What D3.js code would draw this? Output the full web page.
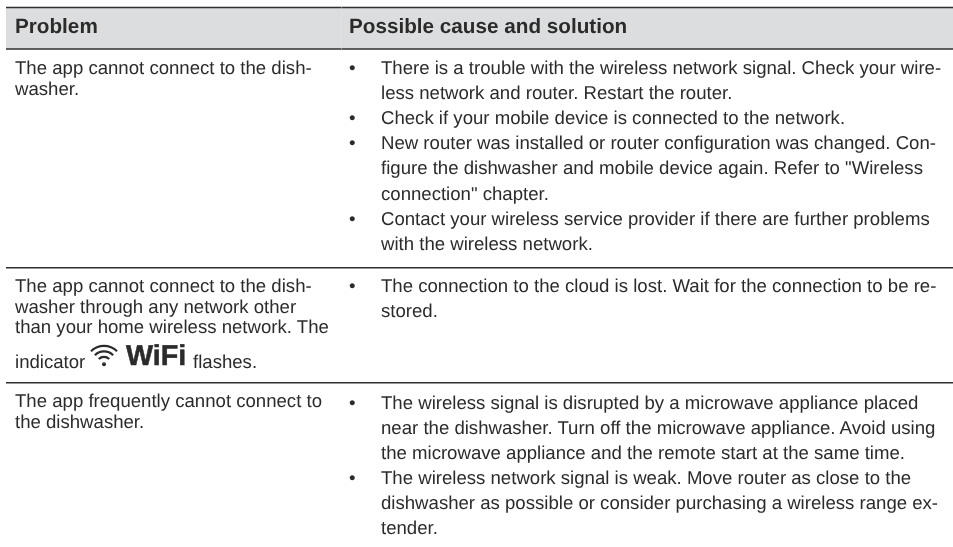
<!DOCTYPE html>
<html>
<head>
<meta charset="utf-8">
<script src="https://cdn.jsdelivr.net/npm/d3@7"></script>
<style>
  html, body { margin: 0; padding: 0; background: #fff; }
  svg { display: block; filter: blur(0.35px); }
  text { font-family: "Liberation Sans", Arial, sans-serif; fill: #2b2b2b; text-rendering: geometricPrecision; }
</style>
</head>
<body>
<svg id="chart" width="953" height="547"></svg>
<script>
'use strict';

const headers = ['Problem', 'Possible cause and solution'];

const problems = [
  ['The app cannot connect to the dish-', 'washer.'],
  ['The app cannot connect to the dish-', 'washer through any network other', 'than your home wireless network. The'],
  ['The app frequently cannot connect to', 'the dishwasher.'],
];

const solutions = [
  [
    ['There is a trouble with the wireless network signal. Check your wire-', 'less network and router. Restart the router.'],
    ['Check if your mobile device is connected to the network.'],
    ['New router was installed or router configuration was changed. Con-', 'figure the dishwasher and mobile device again. Refer to "Wireless', 'connection" chapter.'],
    ['Contact your wireless service provider if there are further problems', 'with the wireless network.'],
  ],
  [
    ['The connection to the cloud is lost. Wait for the connection to be re-', 'stored.'],
  ],
  [
    ['The wireless signal is disrupted by a microwave appliance placed', 'near the dishwasher. Turn off the microwave appliance. Avoid using', 'the microwave appliance and the remote start at the same time.'],
    ['The wireless network signal is weak. Move router as close to the', 'dishwasher as possible or consider purchasing a wireless range ex-', 'tender.'],
  ],
];

// horizontal rules, top of the header first
const rules = [7.5, 49, 267.8, 382.7];
// first baseline of each row, left and right column
const problemTops = [74, 291.8, 406.8];
const solutionTops = [74, 292, 408.5];

const width = 953;
const left = 6;
const colProblem = 15;
const colBullet = 349;
const colSolution = 381;
const colSplit = 341.5;
const problemPitch = 20.7;
const solutionPitch = 25.1;
const fontSize = 18.6;
const ink = '#2b2b2b';

const svg = d3.select('#chart');

svg.append('rect')
  .attr('x', left)
  .attr('y', rules[0])
  .attr('width', width - left)
  .attr('height', rules[1] - rules[0])
  .attr('fill', '#dcddde');

svg.selectAll('line.rule')
  .data(rules)
  .enter()
  .append('line')
  .attr('class', 'rule')
  .attr('x1', left)
  .attr('x2', width)
  .attr('y1', d => d)
  .attr('y2', d => d)
  .attr('stroke', '#2f2f2f')
  .attr('stroke-width', 1.5);

// faint seam between the two header cells
svg.append('line')
  .attr('x1', colSplit)
  .attr('x2', colSplit)
  .attr('y1', rules[0] - 1)
  .attr('y2', rules[1] + 1)
  .attr('stroke', '#e6e6e7')
  .attr('stroke-width', 0.4);

svg.selectAll('text.header')
  .data(headers)
  .enter()
  .append('text')
  .attr('class', 'header')
  .attr('x', (d, i) => (i === 0 ? colProblem : colBullet))
  .attr('y', 33)
  .attr('font-size', 20.7)
  .attr('font-weight', 'bold')
  .text(d => d);

problems.forEach(function(lines, r) {
  svg.selectAll('text.p' + r)
    .data(lines)
    .enter()
    .append('text')
    .attr('class', 'p' + r)
    .attr('x', colProblem)
    .attr('y', (d, i) => problemTops[r] + i * problemPitch)
    .attr('font-size', fontSize)
    .text(d => d);
});

solutions.forEach(function(items, r) {
  let n = 0;
  items.forEach(function(item, b) {
    const y0 = solutionTops[r] + n * solutionPitch;
    svg.append('text')
      .attr('x', colBullet)
      .attr('y', y0)
      .attr('font-size', fontSize)
      .text('\u2022');
    svg.selectAll('text.s' + r + '-' + b)
      .data(item)
      .enter()
      .append('text')
      .attr('class', 's' + r + '-' + b)
      .attr('x', colSolution)
      .attr('y', (d, i) => y0 + i * solutionPitch)
      .attr('font-size', fontSize)
      .text(d => d);
    n += item.length;
  });
});

// indicator line with the wifi symbol
const indicator = svg.append('g').attr('transform', 'translate(' + colProblem + ',368.3)');
indicator.append('text').attr('font-size', fontSize).text('indicator');

const icon = indicator.append('g').attr('transform', 'translate(89,-4)');
[8.5, 14, 19.5].forEach(function(r) {
  icon.append('path')
    .attr('d', d3.arc()({
      innerRadius: r - 2.2,
      outerRadius: r,
      startAngle: -Math.PI / 4,
      endAngle: Math.PI / 4,
    }))
    .attr('fill', ink);
});
icon.append('circle').attr('r', 2).attr('fill', ink);

indicator.append('text')
  .attr('x', 111)
  .attr('y', -3.3)
  .attr('font-size', 28.7)
  .attr('font-weight', 'bold')
  .attr('stroke', ink)
  .attr('stroke-width', 0.5)
  .text('WiFi');
indicator.append('text').attr('x', 178).attr('font-size', fontSize).text('flashes.');
</script>
</body>
</html>
